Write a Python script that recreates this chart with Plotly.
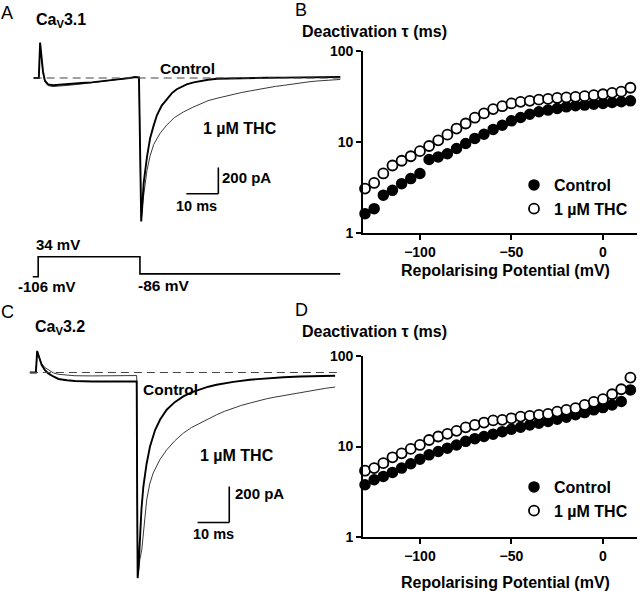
import plotly.graph_objects as go

W, H = 640, 591
FONT = "Arial, Liberation Sans, sans-serif"

# ---------------- data ----------------
potential = [-130, -125, -120, -115, -110, -105, -100, -95, -90, -85, -80, -75, -70, -65, -60,
             -55, -50, -45, -40, -35, -30, -25, -20, -15, -10, -5, 0, 5, 10, 15]

tau31_control = [1.63, 1.85, 2.6, 2.94, 3.48, 3.95, 4.49, 6.4, 6.84, 7.4, 8.45, 9.6, 10.9, 12.1, 13.7,
                 15.2, 17.0, 18.5, 20.1, 21.4, 22.3, 23.2, 24.2, 24.9, 25.3, 25.9, 26.4, 27.0, 27.5, 28.2]
tau31_thc = [3.07, 3.54, 4.5, 5.5, 6.2, 6.95, 7.9, 9.0, 10.4, 12.0, 14.0, 15.9, 18.4, 20.5, 22.9,
             24.6, 26.4, 27.5, 28.2, 29.0, 29.6, 30.3, 30.7, 31.2, 31.7, 32.5, 33.3, 34.5, 35.5, 39.2]

tau32_control = [3.78, 4.29, 4.67, 5.17, 5.77, 6.44, 7.25, 8.09, 8.81, 9.59, 10.4, 11.4, 12.2, 12.9, 13.7,
                 14.6, 15.5, 16.3, 17.3, 18.1, 18.9, 20.0, 21.1, 22.4, 23.7, 25.4, 26.9, 28.8, 31.4, 42.2]
tau32_thc = [5.4, 5.77, 6.55, 7.6, 8.4, 9.4, 10.4, 11.8, 12.9, 13.8, 14.9, 16.3, 17.3, 18.4, 19.4,
             19.7, 20.5, 21.4, 21.8, 22.4, 22.9, 24.3, 25.4, 26.5, 28.8, 31.1, 33.3, 37.8, 42.9, 57.7]

# Ca_V3.1 current traces (time ms, current pA)
a_ctrl_t = [-33.0, -31.4, -31.0, -30.6, -30.1, -29.5, -28.5, -27.0, -25.4, -22.0, -18.0, -14.9, -10.0, -6.7,
            -3.0, -1.3, -0.1, 0.3, 0.6, 1.0, 1.35, 2.4, 3.4, 4.5, 5.5, 7.0, 8.6, 10.2, 11.7, 13.2, 14.8,
            17.0, 19.0, 21.5, 24.3, 29.5, 35.0, 40.0, 45.0, 50.0, 55.0, 60.0, 62.8]
a_ctrl_i = [0, 0, 270, 150, 50, -20, -48, -55, -53, -45, -38, -33, -22, -10,
            0, 8, 5, -700, -1090, -950, -800, -600, -455, -360, -283, -210, -159, -115, -85, -65, -48,
            -33, -23, -13, -6, -2, 0, 2, 3, 4, 5, 6, 8]
a_thc_t = [-33.0, -31.4, -31.0, -30.6, -30.1, -29.5, -28.5, -27.0, -25.4, -22.0, -18.0, -14.9, -10.0, -6.7,
           -3.0, -1.3, -0.1, 0.3, 0.6, 1.0, 1.5, 2.4, 3.4, 4.5, 6.5, 8.6, 11.0, 13.8, 16.5, 19.0, 21.5,
           24.3, 27.0, 29.5, 32.0, 34.7, 37.3, 39.9, 42.5, 45.1, 47.7, 50.3, 53.0, 55.5, 59.0, 62.8]
a_thc_i = [0, 0, 250, 140, 40, -30, -58, -65, -63, -55, -45, -35, -22, -10,
           0, 5, 3, -700, -1080, -960, -850, -702, -590, -505, -420, -357, -300, -258, -225, -196, -172,
           -154, -137, -122, -110, -98, -85, -73, -64, -56, -46, -36, -29, -23, -16, -11]

# voltage protocol (time ms, mV)
proto_t = [-33.3, -31.6, -31.6, 0.2, 0.2, 62.8]
proto_v = [-106, -106, 34, 34, -86, -86]

# Ca_V3.2 current traces
c_ctrl_t = [-33.7, -31.8, -31.4, -30.8, -30.0, -29.0, -27.9, -26.3, -24.7, -22.0, -19.5, -14.0, -9.1, -4.0,
            -0.5, 0.0, 0.15, 0.3, 0.6, 1.04, 1.5, 2.1, 3.1, 4.2, 5.8, 7.35, 9.46, 12.0, 14.7, 17.3, 20.0,
            22.6, 25.2, 27.8, 30.5, 35.7, 41.0, 46.3, 51.5, 57.0, 62.6]
c_ctrl_i = [0, 0, 120, 80, 42, 15, -5, -22, -36, -43, -47, -50, -51, -51,
            -50, -50, -700, -1143, -1080, -893, -760, -634, -510, -411, -320, -263, -207, -165, -133, -110, -92,
            -79, -68, -59, -52, -40, -31, -26, -22, -20, -18]
c_thc_t = [-33.7, -31.8, -31.4, -30.8, -30.0, -29.0, -27.9, -26.3, -24.7, -22.0, -19.5, -14.0, -9.1, -4.0,
           -0.5, 0.0, 0.15, 0.3, 0.6, 1.0, 1.6, 2.3, 3.15, 4.1, 5.2, 7.3, 9.46, 12.0, 14.7, 17.3, 20.0,
           22.6, 25.2, 27.8, 30.5, 33.0, 35.7, 38.3, 41.0, 43.6, 46.3, 49.0, 51.5, 54.0, 56.8, 59.5, 62.6]
c_thc_i = [0, 0, 115, 85, 51, 28, 14, -2, -10, -15, -18, -19, -19, -18,
           -17, -17, -700, -1130, -1100, -1040, -986, -840, -708, -620, -559, -485, -430, -380, -337, -306, -281,
           -256, -235, -215, -198, -183, -170, -157, -146, -137, -128, -119, -111, -103, -96, -88, -81]

series_names = ["Control", "1 \u00b5M THC"]

# ---------------- layout helpers ----------------
def fx(px):
    return px / W

def fy(py):
    return 1 - py / H

def lin_range(p0, p1, origin_px, px_per_unit, invert=False):
    if invert:  # vertical: py = origin - value*scale
        return [(origin_px - p1) / px_per_unit, (origin_px - p0) / px_per_unit]
    return [(p0 - origin_px) / px_per_unit, (p1 - origin_px) / px_per_unit]

fig = go.Figure()

hidden = dict(visible=False, showgrid=False, zeroline=False, fixedrange=True, automargin=False)

a_xr = lin_range(30, 345, 139.3, 3.2)
a_yr = lin_range(35, 240, 78, 1 / 7.6, invert=True)
pr_scale = 20.0 / 140.0
pr_yr = [-106 + (276.7 - 282) / pr_scale, -106 + (276.7 - 250) / pr_scale]
c_xr = lin_range(28, 345, 136.7, 3.17)
c_yr = lin_range(335, 590, 372.5, 1 / 5.56, invert=True)

fig.update_layout(
    xaxis=dict(domain=[fx(30), fx(345)], range=a_xr, anchor="y", **hidden),
    yaxis=dict(domain=[fy(240), fy(35)], range=a_yr, anchor="x", **hidden),
    xaxis2=dict(domain=[fx(30), fx(345)], range=a_xr, anchor="y2", **hidden),
    yaxis2=dict(domain=[fy(282), fy(250)], range=pr_yr, anchor="x2", **hidden),
    xaxis3=dict(domain=[fx(28), fx(345)], range=c_xr, anchor="y3", **hidden),
    yaxis3=dict(domain=[fy(590), fy(335)], range=c_yr, anchor="x3", **hidden),
)

sc_axis = dict(showline=True, linecolor="black", linewidth=1.6, ticks="outside", ticklen=5,
               tickwidth=1.6, tickcolor="black", showgrid=False, zeroline=False, automargin=False,
               tickfont=dict(family=FONT, size=14, color="black", weight="bold"), fixedrange=True)

fig.update_layout(
    xaxis4=dict(domain=[fx(363), fx(637)], range=[-131.1, 18.6], anchor="y4",
                tickvals=[-100, -50, 0], **sc_axis),
    yaxis4=dict(domain=[fy(233), fy(50.7)], type="log", range=[0, 2], anchor="x4",
                tickvals=[1, 10, 100], ticktext=["1", "10", "100"], **sc_axis),
    xaxis5=dict(domain=[fx(363), fx(637)], range=[-131.1, 18.6], anchor="y5",
                tickvals=[-100, -50, 0], **sc_axis),
    yaxis5=dict(domain=[fy(537), fy(356)], type="log", range=[0, 2], anchor="x5",
                tickvals=[1, 10, 100], ticktext=["1", "10", "100"], **sc_axis),
)

# ---------------- traces ----------------
thin = dict(color="#222222", width=0.9)
thick = dict(color="black", width=1.9)

fig.add_trace(go.Scatter(x=a_thc_t, y=a_thc_i, mode="lines", line=thin, xaxis="x", yaxis="y", showlegend=False))
fig.add_trace(go.Scatter(x=a_ctrl_t, y=a_ctrl_i, mode="lines", line=thick, xaxis="x", yaxis="y", showlegend=False))
fig.add_trace(go.Scatter(x=proto_t, y=proto_v, mode="lines", line=dict(color="black", width=1.6),
                         xaxis="x2", yaxis="y2", showlegend=False))
fig.add_trace(go.Scatter(x=c_thc_t, y=c_thc_i, mode="lines", line=thin, xaxis="x3", yaxis="y3", showlegend=False))
fig.add_trace(go.Scatter(x=c_ctrl_t, y=c_ctrl_i, mode="lines", line=thick, xaxis="x3", yaxis="y3", showlegend=False))

filled = dict(symbol="circle", size=10, color="black", line=dict(color="black", width=1.5))
opened = dict(symbol="circle", size=10, color="white", line=dict(color="black", width=1.8))

fig.add_trace(go.Scatter(x=potential, y=tau31_control, mode="markers", marker=filled, name=series_names[0],
                         xaxis="x4", yaxis="y4", cliponaxis=False, legend="legend"))
fig.add_trace(go.Scatter(x=potential, y=tau31_thc, mode="markers", marker=opened, name=series_names[1],
                         xaxis="x4", yaxis="y4", cliponaxis=False, legend="legend"))
fig.add_trace(go.Scatter(x=potential, y=tau32_control, mode="markers", marker=filled, name=series_names[0],
                         xaxis="x5", yaxis="y5", cliponaxis=False, legend="legend2"))
fig.add_trace(go.Scatter(x=potential, y=tau32_thc, mode="markers", marker=opened, name=series_names[1],
                         xaxis="x5", yaxis="y5", cliponaxis=False, legend="legend2"))

# ---------------- shapes: baselines and scale bars ----------------
dash = dict(color="#444444", width=1.1, dash="8px,5px")
bar = dict(color="black", width=1.6)
shapes = [
    dict(type="line", xref="x", yref="y", x0=a_ctrl_t[0], x1=a_ctrl_t[-1], y0=0, y1=0, line=dash),
    dict(type="line", xref="x3", yref="y3", x0=c_ctrl_t[0], x1=64.0, y0=0, y1=0, line=dash),
    dict(type="line", xref="x", yref="y", x0=14.7, x1=24.7, y0=-880, y1=-880, line=bar),
    dict(type="line", xref="x", yref="y", x0=24.7, x1=24.7, y0=-880, y1=-680, line=bar),
    dict(type="line", xref="x3", yref="y3", x0=19.2, x1=29.2, y0=-834, y1=-834, line=bar),
    dict(type="line", xref="x3", yref="y3", x0=29.2, x1=29.2, y0=-834, y1=-634, line=bar),
]
fig.update_layout(shapes=shapes)

# ---------------- annotations ----------------
def txt(text, x, y, size=15, xanchor="left", yanchor="middle", weight="bold"):
    return dict(text=text, x=fx(x), y=fy(y), xref="paper", yref="paper", showarrow=False,
                xanchor=xanchor, yanchor=yanchor, borderpad=0,
                font=dict(family=FONT, size=size, color="black", weight=weight))

ann = [
    txt("A", 0, 13, 18, weight="normal"),
    txt("B", 294, 10, 18, weight="normal"),
    txt("C", 0, 312, 18, weight="normal"),
    txt("D", 294, 310, 18, weight="normal"),
    txt("Ca<sub>V</sub>3.1", 35, 20, 16),
    txt("Ca<sub>V</sub>3.2", 34, 327, 16),
    txt("Control", 159, 68, 15.5),
    txt("1 \u00b5M THC", 202, 128, 16),
    txt("200 pA", 221, 177, 15),
    txt("10 ms", 175, 206, 14.5),
    txt("34 mV", 35, 245, 15),
    txt("-106 mV", 17, 287, 15),
    txt("-86 mV", 137, 285, 15.5),
    txt("Control", 142, 389, 15.5),
    txt("1 \u00b5M THC", 199, 455, 16),
    txt("200 pA", 234, 493, 15),
    txt("10 ms", 192, 534, 14.5),
    txt("Deactivation \u03c4 (ms)", 301, 32, 16),
    txt("Deactivation \u03c4 (ms)", 301, 332, 16),
    txt("Repolarising Potential (mV)", 505, 270, 16, xanchor="center"),
    txt("Repolarising Potential (mV)", 505, 582, 16, xanchor="center"),
]
fig.update_layout(annotations=ann)

leg = dict(bgcolor="rgba(0,0,0,0)", borderwidth=0,
           font=dict(family=FONT, size=16, color="black", weight="bold"),
           xanchor="left", yanchor="top", tracegroupgap=0, itemwidth=30)
fig.update_layout(
    legend=dict(x=fx(514), y=fy(168), **leg),
    legend2=dict(x=fx(514), y=fy(470), **leg),
)

fig.update_layout(width=W, height=H, margin=dict(l=0, r=0, t=0, b=0, autoexpand=False),
                  paper_bgcolor="white", plot_bgcolor="white", showlegend=True,
                  font=dict(family=FONT, color="black"))

fig.write_html("out.html", config={"displayModeBar": False},
               post_script="document.body.style.margin='0';")
